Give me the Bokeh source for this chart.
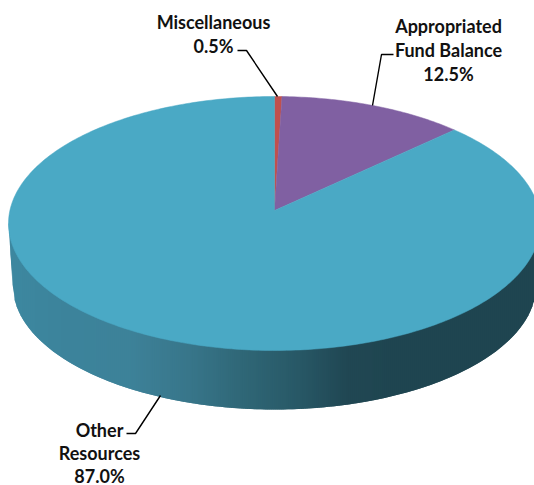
import numpy as np
from bokeh.embed import file_html
from bokeh.models import Range1d
from bokeh.plotting import figure
from bokeh.resources import INLINE
from bokeh.core.properties import value

# Budget shares, clockwise from twelve o'clock
categories = ["Miscellaneous", "Appropriated Fund Balance", "Other Resources"]
shares = [0.5, 12.5, 87.0]
slice_colors = ["#C0504D", "#8060A2", "#4AA9C5"]

label_lines = [
    ["Miscellaneous", "0.5%"],
    ["Appropriated", "Fund Balance", "12.5%"],
    ["Other", "Resources", "87.0%"],
]
label_x = [213, 448, 99]
label_y = [[21, 45], [25, 49, 73], [429, 452, 475]]
leaders = [
    ([237, 246, 277], [50, 50, 96]),
    ([393, 381, 372], [54, 54, 105]),
    ([126, 135, 160], [433, 433, 395]),
]

# Projected disc: the top ellipse, the hub seen through perspective, the lower rim
CX, CY, RX, RY = 274.0, 223.0, 266.0, 127.0
HUB_X, HUB_Y = 274.0, 210.0
LOW_CX, LOW_CY, LOW_RX, LOW_RY = 274.0, 284.0, 262.0, 125.0

# Shading along the visible wall of the disc
wall_x = [8, 60, 130, 190, 240, 300, 345, 400, 540]
wall_r = [62, 60, 62, 56, 48, 40, 33, 31, 31]
wall_g = [136, 132, 130, 118, 104, 88, 72, 69, 69]
wall_b = [160, 156, 153, 138, 120, 102, 84, 80, 80]


def rim_point(theta):
    """Follow a ray from the hub at disc angle theta out to the top ellipse."""
    dx, dy = RX * np.sin(theta), -RY * np.cos(theta)
    ox, oy = HUB_X - CX, HUB_Y - CY
    a = (dx / RX) ** 2 + (dy / RY) ** 2
    b = 2 * (ox * dx / RX**2 + oy * dy / RY**2)
    c = (ox / RX) ** 2 + (oy / RY) ** 2 - 1
    t = (-b + np.sqrt(b * b - 4 * a * c)) / (2 * a)
    return HUB_X + t * dx, HUB_Y + t * dy


def silhouette(x):
    """Lower outline of the wall, joining the side of the top ellipse to the lower rim."""
    left, right = LOW_CX - LOW_RX, LOW_CX + LOW_RX
    if x < left:
        return CY + (LOW_CY - CY) * (x - (CX - RX)) / (left - (CX - RX))
    if x > right:
        return LOW_CY + (CY - LOW_CY) * (x - right) / (CX + RX - right)
    return LOW_CY + LOW_RY * np.sqrt(1 - ((x - LOW_CX) / LOW_RX) ** 2)


p = figure(
    width=534, height=485, output_backend="svg", toolbar_location=None,
    x_range=Range1d(0, 534), y_range=Range1d(485, 0),
    min_border=0, outline_line_color=None, background_fill_color="white",
)
p.axis.visible = False
p.grid.visible = False

# Side wall, as strips painted left to right, each overlapping the next to hide seams
edges = np.arange(8.0, 540.0, 2.0)
xs, ys, colors = [], [], []
for x0 in edges:
    x1 = min(x0 + 4.0, CX + RX)
    xm = x0 + 1.0
    xs.append([x0, x1, x1, x0])
    ys.append([CY, CY, silhouette(x1), silhouette(x0)])
    colors.append("#%02x%02x%02x" % (
        int(np.interp(xm, wall_x, wall_r)),
        int(np.interp(xm, wall_x, wall_g)),
        int(np.interp(xm, wall_x, wall_b)),
    ))
p.patches(xs, ys, fill_color=colors, line_color=None)

# Top face, one wedge per share
start = 0.0
for share, color in zip(shares, slice_colors):
    stop = start + share / 100 * 2 * np.pi
    angles = np.linspace(start, stop, max(3, int(share * 4)))
    rim = [rim_point(t) for t in angles]
    p.patch(
        [HUB_X] + [q[0] for q in rim],
        [HUB_Y] + [q[1] for q in rim],
        fill_color=color, line_color=color, line_width=0.5,
    )
    start = stop

# Leader lines and labels
for lx, ly in leaders:
    p.line(lx, ly, line_color="black", line_width=1.4)

for lines, x, rows in zip(label_lines, label_x, label_y):
    p.text(
        [x] * len(lines), rows, text=lines,
        text_font=value("Lato"), text_font_style="bold", text_font_size="18px",
        text_color="#111111", text_align="center", text_baseline="middle",
    )

open("out.html", "w").write(file_html(p, INLINE))
